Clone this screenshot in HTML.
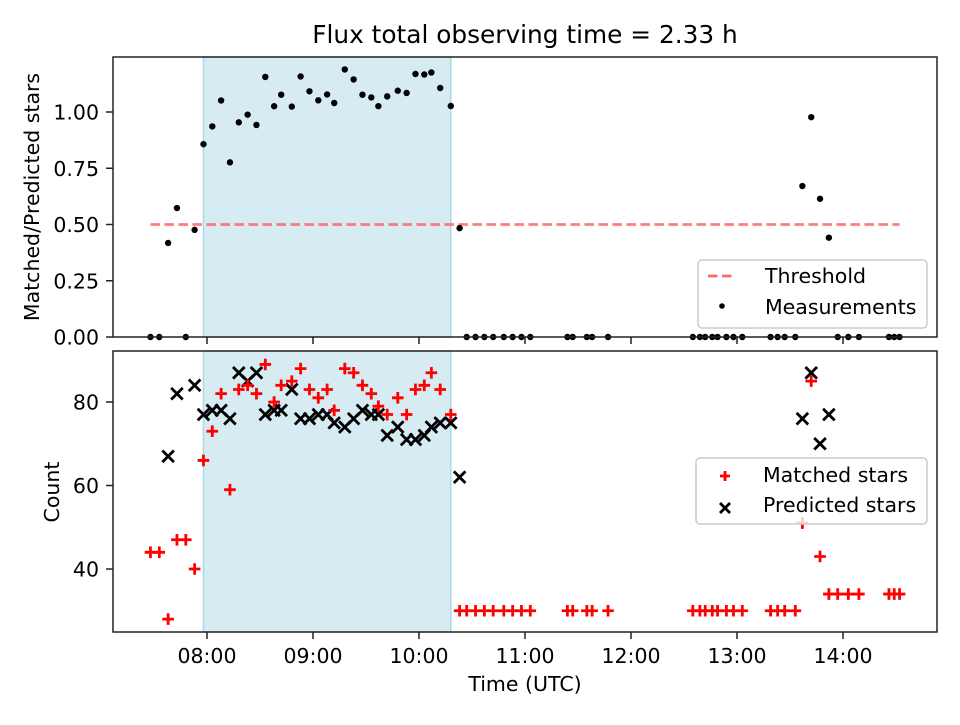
<!DOCTYPE html>
<html><head><meta charset="utf-8"><style>
body{margin:0;background:#fff}
svg text{font-family:"DejaVu Sans","Liberation Sans",sans-serif;fill:#000}
</style></head><body>
<svg id="chart" width="960" height="720" viewBox="0 0 960 720" xmlns="http://www.w3.org/2000/svg"></svg>
<script>
// times in minutes since midnight (UTC)
const times=[448,453,458,463,468,473,478,483,488,493,498,503,508,513,518,522,528,533,538,543,548,552,558,563,568,573,577,582,588,593,598,603,607,612,618,623,
627,632,637,642,648,653,658,663,684,687,695,698,707,755,759,762,766,769,774,778,783,799,803,807,813,817,822,827,832,837,843,849,866,869,872];
const matched=[44,44,28,47,47,40,66,73,82,59,83,84,82,89,80,84,85,88,83,81,83,78,88,87,84,82,79,77,81,77,83,84,87,83,77,30,
30,30,30,30,30,30,30,30,30,30,30,30,30,30,30,30,30,30,30,30,30,30,30,30,30,51,85,43,34,34,34,34,34,34,34];
const predicted=[null,null,67,82,null,84,77,78,78,76,87,85,87,77,78,78,83,76,76,77,77,75,74,76,78,77,77,72,74,71,71,72,74,75,75,62,
null,null,null,null,null,null,null,null,null,null,null,null,null,null,null,null,null,null,null,null,null,null,null,null,null,76,87,70,77,null,null,null,null,null,null];
const threshold=0.5;
const shadeStart=478, shadeEnd=618;
const xTicks=[480,540,600,660,720,780,840];
const xTickLabels=["08:00","09:00","10:00","11:00","12:00","13:00","14:00"];
const topTicks=[0,0.25,0.5,0.75,1.0];
const topTickLabels=["0.00","0.25","0.50","0.75","1.00"];
const botTicks=[40,60,80];
const botTickLabels=["40","60","80"];

const svg=document.getElementById('chart');
const NS='http://www.w3.org/2000/svg';
function mk(tag,attrs,parent){const e=document.createElementNS(NS,tag);for(const k in attrs)e.setAttribute(k,attrs[k]);(parent||svg).appendChild(e);return e;}
const L=113,R=937,T1=57,B1=337,T2=351,B2=632;
const xMin=426.8,xMax=893.2;
const X=t=>L+(t-xMin)/(xMax-xMin)*(R-L);
const Y1=v=>B1-v*225;
const Y2=v=>402-(v-80)*4.175;
const FS=20.5;

let g=mk('g',{});

let g2=mk('g',{});


for(const [gg,T,B] of [[g,T1,B1],[g2,T2,B2]]){
  const r=mk('rect',{x:X(shadeStart),y:T,width:X(shadeEnd)-X(shadeStart),height:B-T,fill:'#add8e6','fill-opacity':0.5,stroke:'#add8e6','stroke-width':1.5},gg);
  
}
const th=mk('line',{x1:X(Math.min(...times)),x2:X(Math.max(...times)),y1:Y1(threshold),y2:Y1(threshold),stroke:'#ff6666','stroke-opacity':0.85,'stroke-width':2.8,'stroke-dasharray':'9.5,4.5'},g);

times.forEach((t,i)=>{
  const v=predicted[i]?matched[i]/predicted[i]:0;
  const c=mk('circle',{cx:X(t),cy:Y1(v),r:3.2,fill:'#000'},g);
  
});
const s=5.8;
times.forEach((t,i)=>{
  const p=predicted[i];
  if(p!=null){
    const x=X(t),y=Y2(p);
    const e=mk('path',{d:`M${x-s} ${y-s}L${x+s} ${y+s}M${x-s} ${y+s}L${x+s} ${y-s}`,stroke:'#000','stroke-width':2.8},g2);
    
  }
});
times.forEach((t,i)=>{
  const x=X(t),y=Y2(matched[i]);
  const e=mk('path',{d:`M${x-s} ${y}L${x+s} ${y}M${x} ${y-s}L${x} ${y+s}`,stroke:'#ff0000','stroke-width':2.8},g2);
  
});
for(const [T,B,n] of [[T1,B1,'top-frame'],[T2,B2,'bottom-frame']]){
  const f=mk('rect',{x:L,y:T,width:R-L,height:B-T,fill:'none',stroke:'#222','stroke-width':1.5});
  
}
xTicks.forEach((t,i)=>{
  mk('line',{x1:X(t),x2:X(t),y1:B1,y2:B1+7,stroke:'#222','stroke-width':1.5});
  mk('line',{x1:X(t),x2:X(t),y1:B2,y2:B2+7,stroke:'#222','stroke-width':1.5});
  const tx=mk('text',{x:X(t),y:663,'text-anchor':'middle','font-size':FS});
  tx.textContent=xTickLabels[i];
  
});
topTicks.forEach((v,i)=>{
  mk('line',{x1:L-7,x2:L,y1:Y1(v),y2:Y1(v),stroke:'#222','stroke-width':1.5});
  const tx=mk('text',{x:L-14,y:Y1(v)+7.5,'text-anchor':'end','font-size':FS});
  tx.textContent=topTickLabels[i];
  
});
botTicks.forEach((v,i)=>{
  mk('line',{x1:L-7,x2:L,y1:Y2(v),y2:Y2(v),stroke:'#222','stroke-width':1.5});
  const tx=mk('text',{x:L-14,y:Y2(v)+7.5,'text-anchor':'end','font-size':FS});
  tx.textContent=botTickLabels[i];
  
});
let t=mk('text',{x:525,y:43,'text-anchor':'middle','font-size':24.8});t.textContent='Flux total observing time = 2.33 h';

t=mk('text',{x:525,y:691,'text-anchor':'middle','font-size':FS});t.textContent='Time (UTC)';

t=mk('text',{x:39,y:197,'text-anchor':'middle','font-size':FS,transform:'rotate(-90 39 197)'});t.textContent='Matched/Predicted stars';

t=mk('text',{x:59,y:492,'text-anchor':'middle','font-size':FS,transform:'rotate(-90 59 492)'});t.textContent='Count';

let lg=mk('g',{});
mk('rect',{x:698,y:260,width:229,height:68,rx:4,fill:'#fff','fill-opacity':0.8,stroke:'#ccc','stroke-width':1.5},lg);
mk('line',{x1:708,x2:736,y1:276,y2:276,stroke:'#ff6666','stroke-width':2.8,'stroke-dasharray':'9.5,4.5'},lg);
t=mk('text',{x:765,y:283,'font-size':FS},lg);t.textContent='Threshold';

mk('circle',{cx:722,cy:306,r:2.8,fill:'#000'},lg);
t=mk('text',{x:765,y:314,'font-size':FS},lg);t.textContent='Measurements';

lg=mk('g',{});
mk('rect',{x:696,y:458,width:231,height:66,rx:4,fill:'#fff','fill-opacity':0.8,stroke:'#ccc','stroke-width':1.5},lg);
mk('path',{d:'M720 476L730 476M725 471L725 481',stroke:'#f00','stroke-width':2.8},lg);
t=mk('text',{x:763,y:482,'font-size':FS},lg);t.textContent='Matched stars';

mk('path',{d:'M720 503L730 513M720 513L730 503',stroke:'#000','stroke-width':2.8},lg);
t=mk('text',{x:763,y:512,'font-size':FS},lg);t.textContent='Predicted stars';

</script>
</body></html>
